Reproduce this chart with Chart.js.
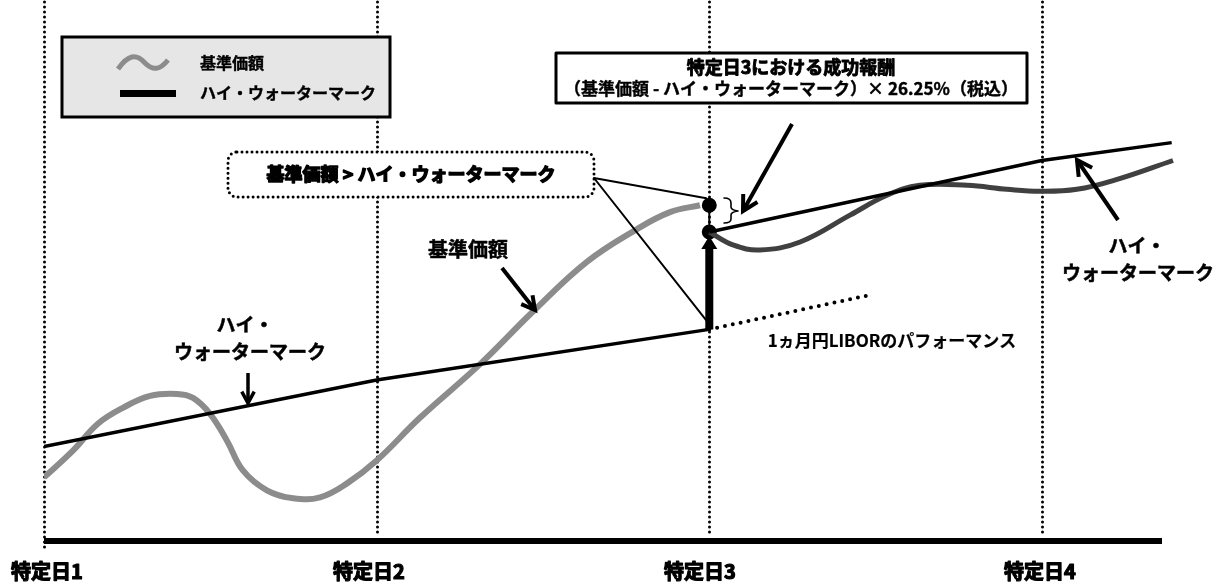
<!DOCTYPE html>
<html>
<head>
<meta charset="utf-8">
<script src="https://cdn.jsdelivr.net/npm/chart.js@4.4.1/dist/chart.umd.min.js"></script>
<style>
  html, body { margin: 0; padding: 0; background: #fff; }
  #wrap { width: 1220px; height: 586px; }
</style>
</head>
<body>
<div id="wrap"><canvas id="chart"></canvas></div>
<script>
// 特定日
const dayLabels = ['特定日1', '特定日2', '特定日3', '特定日4'];
const dayX = [0, 1, 2, 3];

// 基準価額（特定日3まで）
const navX1 = [0, 0.087, 0.162, 0.237, 0.319, 0.4, 0.448, 0.499, 0.55, 0.598, 0.67, 0.749, 0.83, 0.911, 1.0, 1.13, 1.311, 1.47, 1.632, 1.783, 1.882, 1.972];
const navY1 = [64, 91, 118, 134, 146, 148, 144, 128, 101, 71, 51, 43, 44, 58, 81, 124, 178, 231, 281, 314, 331, 338];
// 基準価額（特定日3以降）
const navX2 = [2.0, 2.071, 2.152, 2.273, 2.423, 2.534, 2.633, 2.775, 2.895, 2.994, 3.105, 3.226, 3.394];
const navY2 = [311, 298, 293, 301, 328, 348, 358, 358, 354, 352, 354, 364, 383];

// ハイ・ウォーターマーク
const hwmX1 = [0, 1, 2];
const hwmY1 = [95, 162, 213];
const hwmX2 = [2, 3, 3.39];
const hwmY2 = [311, 383, 401];

// 1ヵ月円LIBORのパフォーマンス
const liborX = [2, 2.474];
const liborY = [213, 247];

// 成功報酬（基準価額とHWMの差）
const feeX = [2, 2];
const feeY = [311, 338];
// HWMの引き上げ矢印
const jumpX = [2, 2];
const jumpY = [213, 296];

const FONT = '"Noto Sans CJK JP", "Noto Sans", sans-serif';

function pts(xs, ys) {
    return xs.map((x, i) => ({ x: x, y: ys[i] }));
}

function heavyText(ctx, text, x, y, size, align, extra) {
    ctx.font = 'bold ' + size + 'px ' + FONT;
    ctx.textAlign = align || 'center';
    ctx.textBaseline = 'middle';
    ctx.fillStyle = '#000';
    ctx.strokeStyle = '#000';
    ctx.lineWidth = extra || 0.6;
    ctx.lineJoin = 'round';
    ctx.fillText(text, x, y);
    ctx.strokeText(text, x, y);
}

function arrow(ctx, x1, y1, x2, y2, w, len) {
    const a = Math.atan2(y2 - y1, x2 - x1);
    ctx.strokeStyle = '#000';
    ctx.lineWidth = w;
    ctx.lineCap = 'butt';
    ctx.lineJoin = 'miter';
    ctx.beginPath();
    ctx.moveTo(x1, y1);
    ctx.lineTo(x2, y2);
    ctx.stroke();
    ctx.beginPath();
    ctx.moveTo(x2 - len * Math.cos(a - 0.5), y2 - len * Math.sin(a - 0.5));
    ctx.lineTo(x2, y2);
    ctx.lineTo(x2 - len * Math.cos(a + 0.5), y2 - len * Math.sin(a + 0.5));
    ctx.stroke();
}

const gridPlugin = {
    id: 'dayGrid',
    beforeDatasetsDraw(chart) {
        const ctx = chart.ctx;
        const sx = chart.scales.x;
        ctx.save();
        ctx.strokeStyle = '#000';
        ctx.lineCap = 'round';
        dayX.forEach((d, i) => {
            const px = Math.round(sx.getPixelForValue(d)) + 0.5;
            ctx.lineWidth = 3;
            ctx.setLineDash([0, 5]);
            ctx.beginPath();
            ctx.moveTo(px, 2);
            ctx.lineTo(px, i === 0 ? 552 : 536);
            ctx.stroke();
        });
        ctx.setLineDash([]);
        // 横軸
        ctx.fillStyle = '#000';
        ctx.fillRect(sx.getPixelForValue(0), 538, 1162 - sx.getPixelForValue(0), 6);
        ctx.restore();
    }
};

const notePlugin = {
    id: 'notes',
    afterDraw(chart) {
        const ctx = chart.ctx;
        const X = v => chart.scales.x.getPixelForValue(v);
        const Y = v => chart.scales.y.getPixelForValue(v);
        ctx.save();

        // 特定日3の矢じり
        const jx = X(2);
        ctx.fillStyle = '#000';
        ctx.beginPath();
        ctx.moveTo(jx, Y(307));
        ctx.lineTo(jx - 8, Y(294));
        ctx.lineTo(jx + 8, Y(294));
        ctx.closePath();
        ctx.fill();

        // 凡例
        ctx.fillStyle = '#e6e6e6';
        ctx.fillRect(62, 37, 328, 80);
        ctx.strokeStyle = '#000';
        ctx.lineWidth = 3;
        ctx.strokeRect(62, 37, 328, 80);
        ctx.strokeStyle = '#8c8c8c';
        ctx.lineWidth = 5;
        ctx.lineCap = 'butt';
        ctx.beginPath();
        ctx.moveTo(118, 69);
        ctx.bezierCurveTo(128, 55, 136, 53, 145, 63);
        ctx.bezierCurveTo(153, 71, 160, 70, 168, 60);
        ctx.stroke();
        ctx.fillStyle = '#000';
        ctx.fillRect(120, 90, 56, 7);
        heavyText(ctx, '基準価額', 200, 63, 16, 'left', 0.4);
        heavyText(ctx, 'ハイ・ウォーターマーク', 200, 93, 16, 'left', 0.4);

        // 成功報酬の枠
        ctx.fillStyle = '#fff';
        ctx.fillRect(556, 53, 471, 50);
        ctx.strokeStyle = '#000';
        ctx.lineWidth = 3;
        ctx.strokeRect(556, 53, 471, 50);
        heavyText(ctx, '特定日3における成功報酬', 791, 67, 18, 'center', 0.9);
        heavyText(ctx, '（基準価額 - ハイ・ウォーターマーク）× 26.25%（税込）', 791, 89, 17, 'center', 0.4);

        // 点線の角丸枠
        ctx.fillStyle = '#fff';
        ctx.strokeStyle = '#000';
        ctx.lineWidth = 3;
        ctx.lineCap = 'round';
        ctx.setLineDash([0, 5]);
        ctx.beginPath();
        ctx.roundRect(228, 152, 366, 45, 9);
        ctx.fill();
        ctx.stroke();
        ctx.setLineDash([]);
        heavyText(ctx, '基準価額 > ハイ・ウォーターマーク', 411, 174, 18, 'center', 1.4);

        // 枠から引き出し線
        ctx.strokeStyle = '#000';
        ctx.lineWidth = 2;
        ctx.beginPath();
        ctx.moveTo(594, 178);
        ctx.lineTo(jx - 3, Y(345));
        ctx.moveTo(594, 178);
        ctx.lineTo(jx - 3, Y(222));
        ctx.stroke();

        // 中かっこ
        ctx.lineWidth = 1.6;
        ctx.beginPath();
        ctx.moveTo(724, 198);
        ctx.quadraticCurveTo(731, 198, 731, 203);
        ctx.lineTo(731, 207);
        ctx.quadraticCurveTo(731, 210, 738, 211);
        ctx.quadraticCurveTo(731, 212, 731, 215);
        ctx.lineTo(731, 219);
        ctx.quadraticCurveTo(731, 223, 724, 223);
        ctx.stroke();

        // 矢印
        arrow(ctx, 792, 124, 743, 211, 4, 17);
        arrow(ctx, 502, 268, 535, 310, 4, 15);
        arrow(ctx, 248, 373, 248, 403, 3.5, 13);
        arrow(ctx, 1118, 220, 1077, 160, 4, 17);

        // ラベル
        heavyText(ctx, '基準価額', 468, 249, 20, 'center', 0.5);
        heavyText(ctx, 'ハイ・', 245, 325, 19, 'center', 0.5);
        heavyText(ctx, 'ウォーターマーク', 250, 352, 19, 'center', 0.5);
        heavyText(ctx, 'ハイ・', 1137, 246, 19, 'center', 0.5);
        heavyText(ctx, 'ウォーターマーク', 1138, 273, 19, 'center', 0.5);
        heavyText(ctx, '1ヵ月円LIBORのパフォーマンス', 892, 341, 17, 'center', 0.2);

        // 特定日ラベル
        const labelX = [47, 369, 700, 1040];
        dayLabels.forEach((t, i) => {
            heavyText(ctx, t, labelX[i], 571, 20, 'center', 1.2);
        });

        ctx.restore();
    }
};

const ctx = document.getElementById('chart').getContext('2d');
const chart = new Chart(ctx, {
    type: 'scatter',
    data: {
        datasets: [
            {
                data: pts(liborX, liborY),
                showLine: true,
                borderColor: '#000',
                borderWidth: 4,
                borderDash: [0, 8],
                borderCapStyle: 'round',
                pointRadius: 0
            },
            {
                data: pts(hwmX1, hwmY1),
                showLine: true,
                borderColor: '#000',
                borderWidth: 3.5,
                pointRadius: 0
            },
            {
                data: pts(hwmX2, hwmY2),
                showLine: true,
                borderColor: '#000',
                borderWidth: 3.5,
                pointRadius: 0
            },
            {
                data: pts(navX1, navY1),
                showLine: true,
                borderColor: '#8c8c8c',
                borderWidth: 6,
                tension: 0.4,
                pointRadius: 0
            },
            {
                data: pts(navX2, navY2),
                showLine: true,
                borderColor: '#404040',
                borderWidth: 5,
                tension: 0.4,
                pointRadius: 0
            },
            {
                data: pts(jumpX, jumpY),
                showLine: true,
                borderColor: '#000',
                borderWidth: 8,
                pointRadius: 0
            },
            {
                data: pts(feeX, feeY),
                showLine: true,
                borderColor: '#000',
                borderWidth: 2,
                pointRadius: 6.5,
                pointBackgroundColor: '#000',
                pointBorderColor: '#000'
            }
        ]
    },
    options: {
        responsive: true,
        maintainAspectRatio: false,
        animation: false,
        layout: {
            padding: { left: 44, right: 45, top: 5, bottom: 45 }
        },
        scales: {
            x: { type: 'linear', min: 0, max: 3.4, display: false },
            y: { min: 0, max: 536, display: false }
        },
        plugins: {
            legend: { display: false },
            tooltip: { enabled: false }
        }
    },
    plugins: [gridPlugin, notePlugin]
});
</script>
</body>
</html>
